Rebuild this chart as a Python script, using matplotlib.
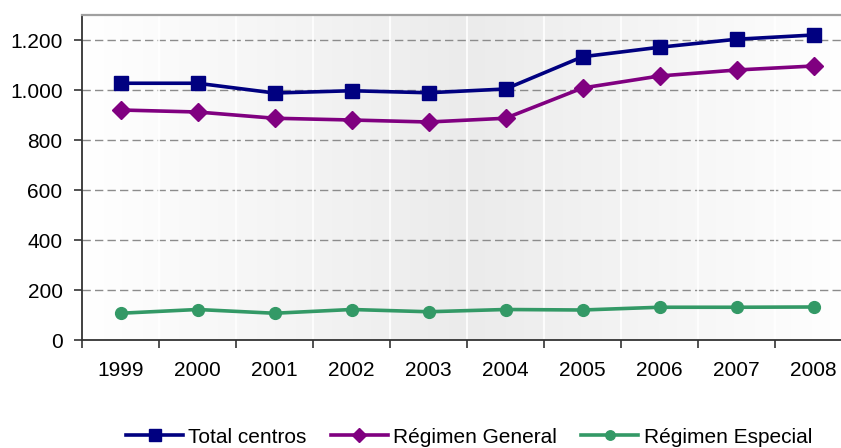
import numpy as np
import matplotlib
matplotlib.use("Agg")
import matplotlib.pyplot as plt
from matplotlib.ticker import FuncFormatter, FixedLocator
from matplotlib.colors import LinearSegmentedColormap

years = ["1999", "2000", "2001", "2002", "2003", "2004", "2005", "2006", "2007", "2008"]
total_centros = [1027, 1027, 988, 997, 989, 1004, 1133, 1171, 1203, 1220]
regimen_general = [920, 912, 887, 880, 872, 887, 1008, 1056, 1080, 1096]
regimen_especial = [107, 122, 107, 122, 113, 122, 120, 131, 131, 132]
y_ticks = [0, 200, 400, 600, 800, 1000, 1200]

plt.rcParams['font.family'] = ['Liberation Sans', 'DejaVu Sans']

W, H = 841, 448
fig = plt.figure(figsize=(W / 100, H / 100), dpi=100)
left, right, top, bottom = 82, 852, 15, 340
ax = fig.add_axes([left / W, 1 - bottom / H, (right - left) / W, (bottom - top) / H])

x = np.arange(len(years))
ax.set_xlim(-0.5, len(years) - 0.5)
ax.set_ylim(0, 1300)

# gradient background
cmap = LinearSegmentedColormap.from_list("bg", ["#ffffff", "#ebebeb", "#ffffff"])
grad = np.linspace(0, 1, 256).reshape(1, -1)
ax.imshow(grad, aspect="auto", cmap=cmap, extent=[-0.5, len(years) - 0.5, 0, 1300],
          zorder=0, interpolation="bilinear")

# grid
for yv in y_ticks[1:]:
    ax.axhline(yv, color="#8c8c8c", lw=1.0, ls=(0, (6, 3)), zorder=1)
for b in np.arange(0.5, len(years) - 0.5, 1):
    ax.axvline(b, color="white", lw=1.2, zorder=1)

ax.plot(x, total_centros, color="#000080", lw=2.6, marker="s", ms=10.5, zorder=3,
        label="Total centros")
ax.plot(x, regimen_general, color="#800080", lw=2.6, marker="D", ms=9.5, zorder=3,
        label="Régimen General")
ax.plot(x, regimen_especial, color="#339966", lw=2.6, marker="o", ms=8.5, zorder=3,
        label="Régimen Especial")

ax.set_yticks(y_ticks)
ax.yaxis.set_major_formatter(FuncFormatter(lambda v, p: f"{int(v):,}".replace(",", ".")))
ax.set_xticks(x)
ax.set_xticklabels(years)
ax.xaxis.set_minor_locator(FixedLocator(np.arange(-0.5, len(years), 1)))
ax.tick_params(axis="x", which="major", length=0, pad=15, labelsize=15)
ax.tick_params(axis="x", which="minor", length=6, width=1.2, color="#333333", direction="out")
ax.tick_params(axis="y", length=6, width=1.2, color="#333333", pad=8, labelsize=15)

for s in ["left", "bottom"]:
    ax.spines[s].set_color("#333333")
    ax.spines[s].set_linewidth(1.3)
ax.spines["top"].set_color("#a0a0a0")
ax.spines["top"].set_linewidth(1.6)
ax.spines["right"].set_color("#a0a0a0")

leg = fig.legend(loc="center", bbox_to_anchor=(469 / W, 1 - 437 / H), ncol=3, frameon=False,
                 fontsize=15, handlelength=2.75, columnspacing=1.15, handletextpad=0.25,
                 markerscale=0.8)

fig.savefig("out.png", dpi=100)
